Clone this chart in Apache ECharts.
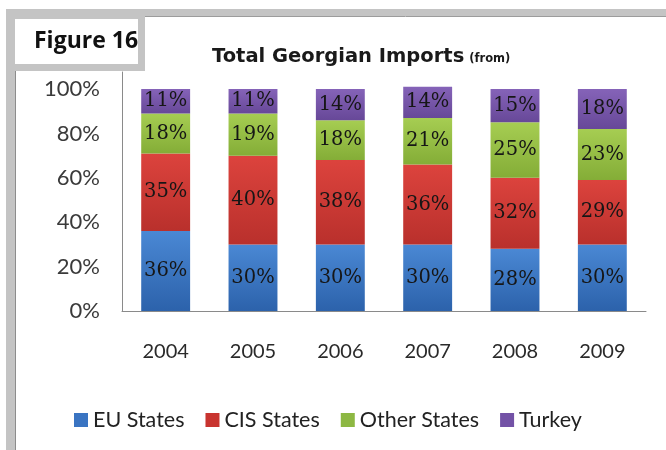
<!DOCTYPE html>
<html>
<head>
<meta charset="utf-8">
<script src="https://cdn.jsdelivr.net/npm/echarts@6/dist/echarts.min.js"></script>
<style>
  html, body { margin: 0; padding: 0; background: #ffffff; }
  #chart { width: 666px; height: 450px; }
</style>
</head>
<body>
<div id="chart"></div>
<script>
// Share of total Georgian imports by origin, per year (percent)
const years = ['2004', '2005', '2006', '2007', '2008', '2009'];
const euStates = [36, 30, 30, 30, 28, 30];
const cisStates = [35, 40, 38, 36, 32, 29];
const otherStates = [18, 19, 18, 21, 25, 23];
const turkey = [11, 11, 14, 14, 15, 18];
const yTicks = [0, 20, 40, 60, 80, 100];

const seriesDefs = [
  { name: 'EU States', data: euStates, top: '#4a88d4', bottom: '#2c62ab', legend: '#3a74c2' },
  { name: 'CIS States', data: cisStates, top: '#dc433d', bottom: '#b9302c', legend: '#c8342f' },
  { name: 'Other States', data: otherStates, top: '#a6cd52', bottom: '#84ad37', legend: '#8db843' },
  { name: 'Turkey', data: turkey, top: '#8563b8', bottom: '#674898', legend: '#7352a6' }
];

const chart = echarts.init(document.getElementById('chart'), null, { renderer: 'canvas' });

const grey = '#c4c4c4';

chart.setOption({
  backgroundColor: '#ffffff',
  animation: false,
  title: {
    text: '{a|Total Georgian Imports} {b|(from)}',
    left: 207,
    top: 42,
    textStyle: {
      rich: {
        a: { fontFamily: 'DejaVu Sans', fontWeight: 'bold', fontSize: 19.5, color: '#1a1a1a' },
        b: { fontFamily: 'DejaVu Sans', fontWeight: 'bold', fontSize: 11.5, color: '#1a1a1a', padding: [4, 0, 0, 0] }
      }
    }
  },
  graphic: [
    { type: 'rect', shape: { x: 6, y: 9, width: 660, height: 7 }, style: { fill: grey }, z: 1 },
    { type: 'line', shape: { x1: 145, y1: 16.5, x2: 666, y2: 16.5 }, style: { stroke: '#9c9c9c', lineWidth: 1 }, z: 1 },
    { type: 'rect', shape: { x: 6, y: 9, width: 9, height: 441 }, style: { fill: grey }, z: 1 },
    { type: 'line', shape: { x1: 15.5, y1: 70, x2: 15.5, y2: 450 }, style: { stroke: '#8c8c8c', lineWidth: 1 }, z: 1 },
    { type: 'rect', shape: { x: 6, y: 9, width: 139, height: 62 }, style: { fill: grey }, z: 5 },
    { type: 'rect', shape: { x: 15, y: 19, width: 123, height: 45 }, style: { fill: '#ffffff' }, z: 6 },
    {
      type: 'text', left: 34, top: 30, z: 7,
      style: { text: 'Figure 16', font: 'bold 23px "Open Sans"', fill: '#111111' }
    }
  ],
  legend: {
    left: 69,
    top: 404,
    itemWidth: 14,
    itemHeight: 14,
    itemGap: 21,
    icon: 'rect',
    textStyle: { fontFamily: 'Lato', fontSize: 21.5, color: '#222222' },
    data: seriesDefs.map(d => ({ name: d.name, itemStyle: { color: d.legend } }))
  },
  grid: { left: 122, right: 20, top: 72, bottom: 139, containLabel: false },
  xAxis: {
    type: 'category',
    data: years,
    axisLine: { show: true, lineStyle: { color: '#8a8a8a', width: 1 } },
    axisTick: { show: false },
    axisLabel: { margin: 31, fontFamily: 'Lato', fontSize: 20, color: '#2a2a2a' }
  },
  yAxis: {
    type: 'value',
    min: 0,
    max: 107.7,
    interval: 20,
    axisLine: { show: true, lineStyle: { color: '#8a8a8a', width: 1 } },
    axisTick: { show: false },
    splitLine: { show: false },
    axisLabel: {
      margin: 22,
      fontFamily: 'Lato',
      fontSize: 22,
      color: '#3a3a3a',
      showMaxLabel: false,
      formatter: v => (yTicks.indexOf(v) >= 0 ? v + '%' : '')
    }
  },
  series: seriesDefs.map(d => ({
    name: d.name,
    type: 'bar',
    stack: 'total',
    barWidth: '56%',
    data: d.data,
    itemStyle: {
      color: new echarts.graphic.LinearGradient(0, 0, 0, 1, [
        { offset: 0, color: d.top },
        { offset: 1, color: d.bottom }
      ])
    },
    label: {
      show: true,
      position: 'inside',
      formatter: '{c}%',
      fontFamily: 'DejaVu Serif',
      fontSize: 19.5,
      color: '#161616'
    }
  }))
});
</script>
</body>
</html>
